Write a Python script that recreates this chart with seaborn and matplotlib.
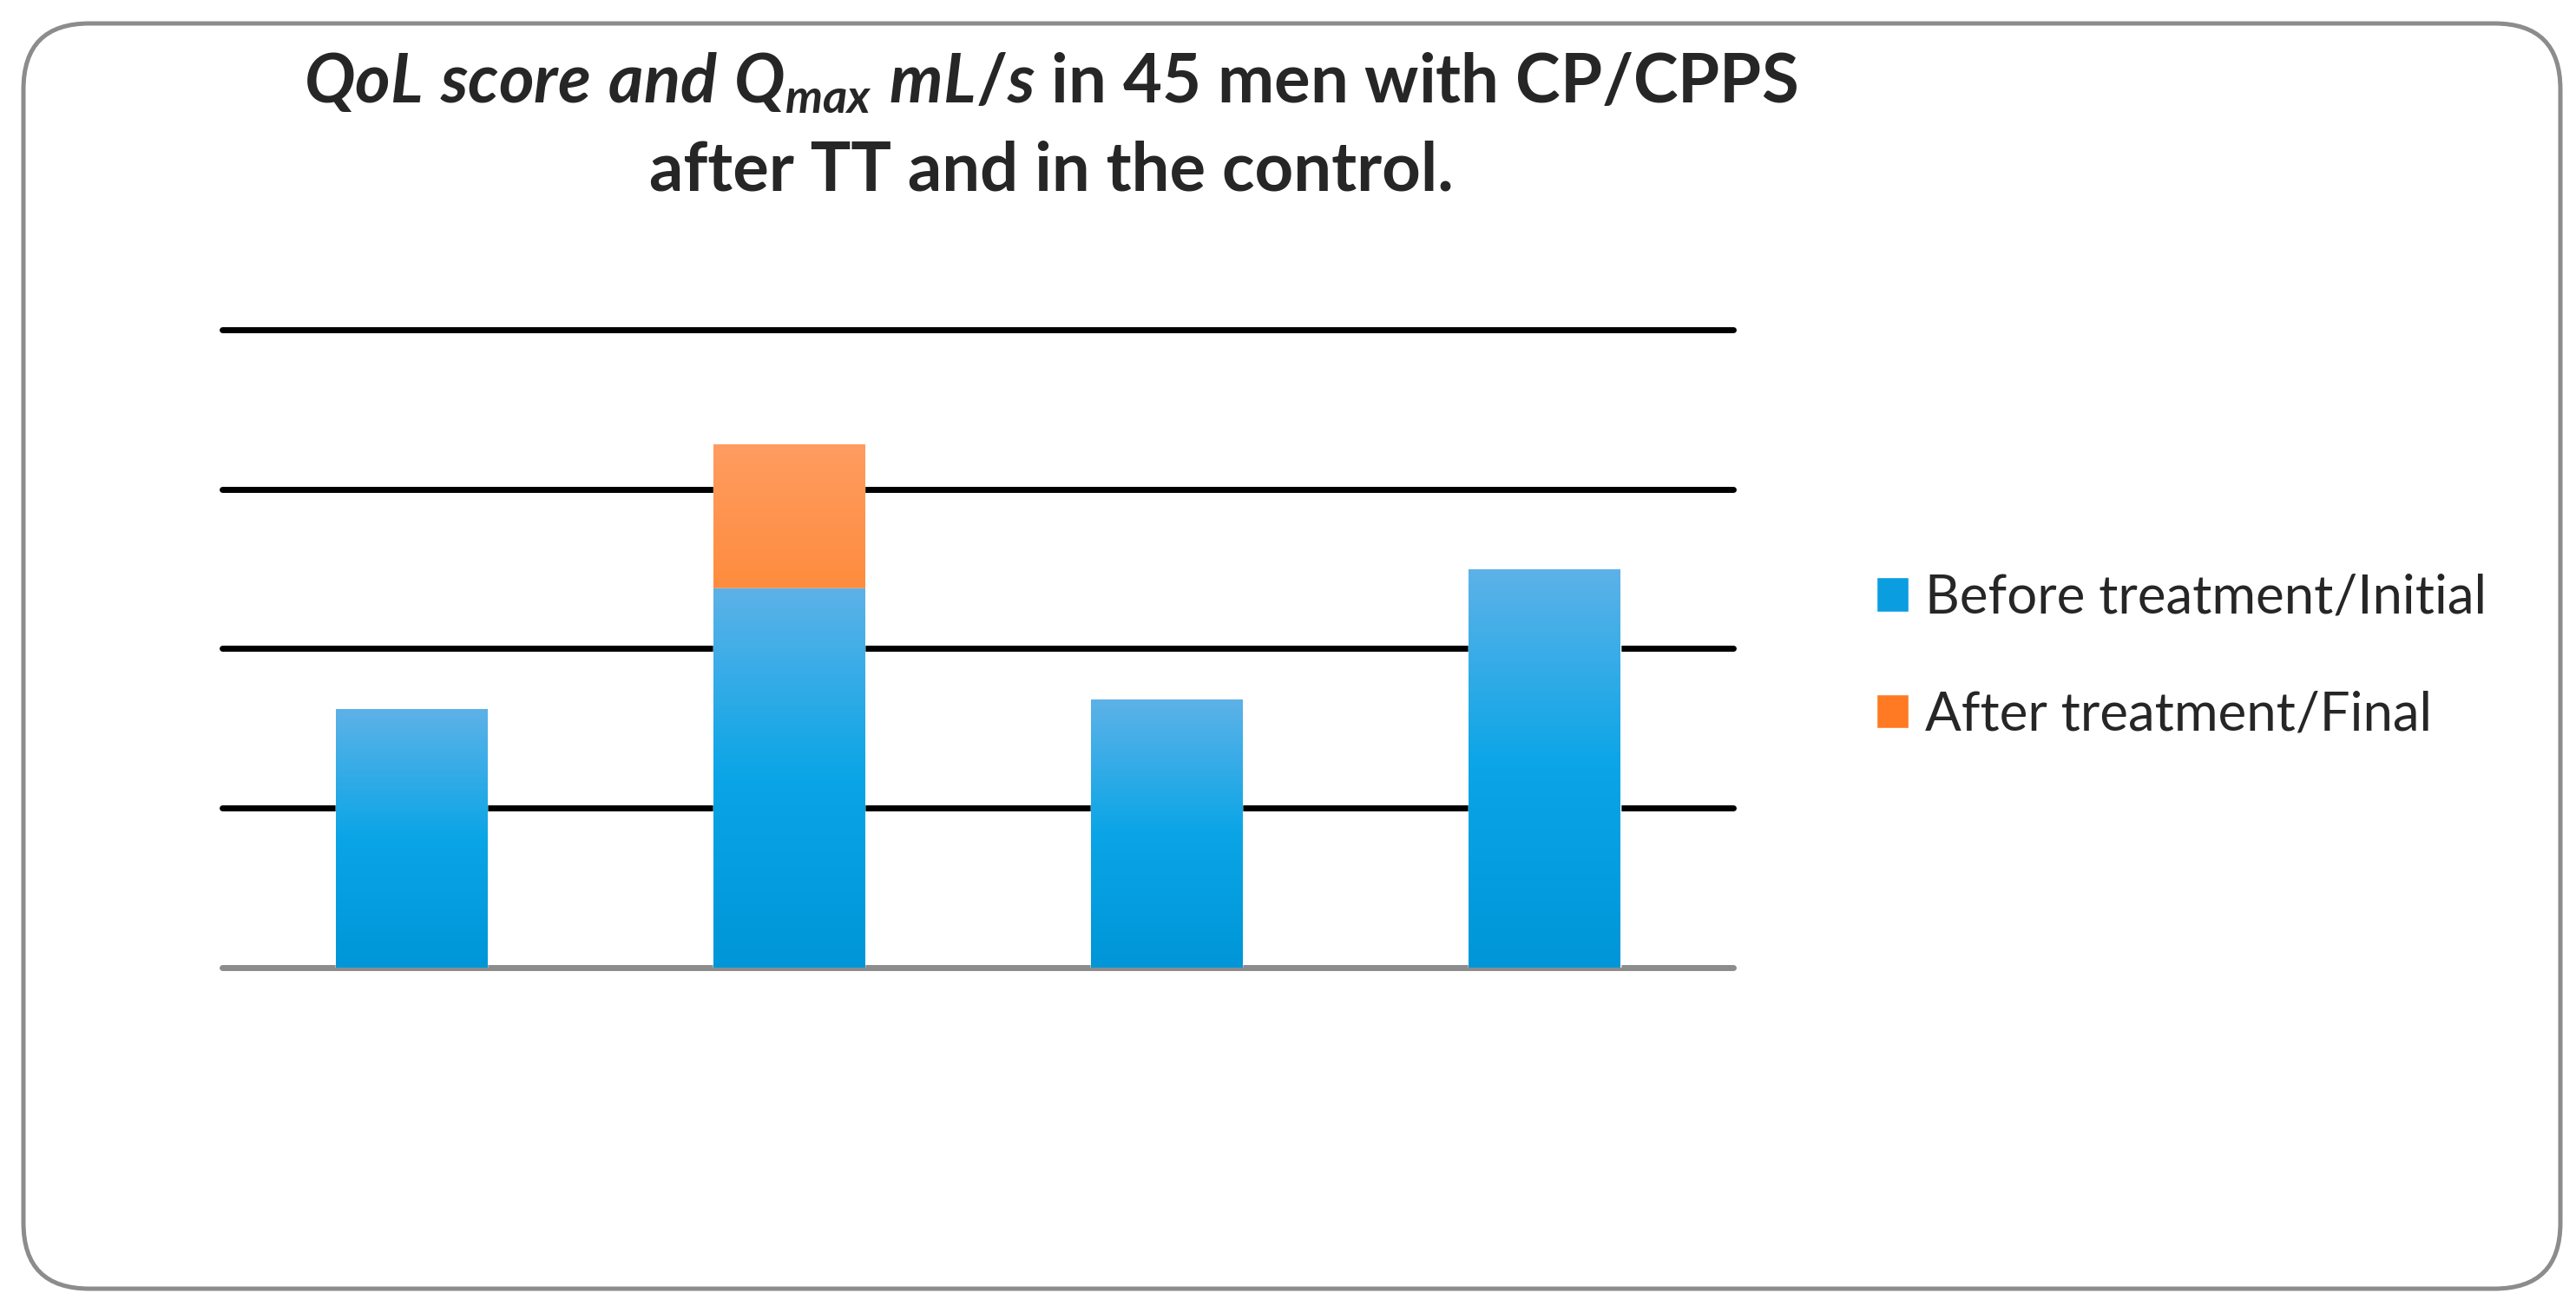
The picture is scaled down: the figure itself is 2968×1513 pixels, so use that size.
import matplotlib.pyplot as plt
import matplotlib.patches as mpatches
import matplotlib.transforms as mtransforms
from matplotlib.colors import LinearSegmentedColormap
import numpy as np
import pandas as pd
import seaborn as sns

# Chart data (no axis labels shown in the original, scale read against gridlines)
groups = ['Group 1', 'Group 2', 'Group 3', 'Group 4']
before = [8.1, 11.9, 8.4, 12.5]
after_gain = [0.0, 4.5, 0.0, 0.0]
grid_levels = [0, 5, 10, 15, 20]
series_names = ['Before treatment/Initial', 'After treatment/Final']

total = [b + a for b, a in zip(before, after_gain)]
df = pd.DataFrame({'group': groups, 'before': before, 'total': total})

sns.set_style("white")
plt.rcParams['font.family'] = ['Lato', 'DejaVu Sans']
plt.rcParams['mathtext.fontset'] = 'custom'
plt.rcParams['mathtext.it'] = 'Lato:italic:bold'
plt.rcParams['mathtext.rm'] = 'Lato:bold'
plt.rcParams['mathtext.bf'] = 'Lato:bold'

fig = plt.figure(figsize=(29.68, 15.13), dpi=100)
ax = fig.add_axes([0.0863, 0.2631, 0.5866, 0.4858])

# Gridlines: black ones above zero, grey baseline
for level in grid_levels:
    ax.axhline(level, color='#8c8c8c' if level == 0 else 'black',
               linewidth=5, solid_capstyle='round', clip_on=False, zorder=1)

# Totals first (orange shows only above the blue part), then the initial values
sns.barplot(data=df, x='group', y='total', color='#ff8c3e', width=0.4,
            saturation=1, ax=ax, zorder=2)
n_orange = len(ax.patches)
sns.barplot(data=df, x='group', y='before', color='#0a9ee0', width=0.4,
            saturation=1, ax=ax, zorder=3)

blue_cmap = LinearSegmentedColormap.from_list('blue', ['#0096d8', '#0aa5e6', '#5db2e8'])
orange_cmap = LinearSegmentedColormap.from_list('orange', ['#ff8c3e', '#fe9c60'])
grad = np.linspace(0, 1, 256).reshape(-1, 1)

for i, bar in enumerate(ax.patches):
    h = bar.get_height()
    if h <= 0:
        continue
    x0, y0 = bar.get_xy()
    w = bar.get_width()
    if i < n_orange:
        k = i
        if after_gain[k] <= 0:
            continue
        extent = [x0, x0 + w, before[k], y0 + h]
        cmap = orange_cmap
    else:
        extent = [x0, x0 + w, y0, y0 + h]
        cmap = blue_cmap
    im = ax.imshow(grad, extent=extent, origin='lower', cmap=cmap,
                   aspect='auto', zorder=bar.get_zorder() + 0.1)
    im.set_clip_path(bar)

ax.set_xlim(-0.5, len(groups) - 0.5)
ax.set_ylim(0, 20)
ax.set_axis_off()

# Title
fig.text(0.408, 1 - 95 / 1513,
         r'$QoL\ score\ and\ Q_{max}\ mL/s$ in 45 men with CP/CPPS',
         ha='center', va='center', fontsize=56, fontweight='bold')
fig.text(0.408, 1 - 197 / 1513, 'after TT and in the control.',
         ha='center', va='center', fontsize=56, fontweight='bold')

# Legend
handles = [mpatches.Patch(facecolor='#0a9ee0', label=series_names[0]),
           mpatches.Patch(facecolor='#ff7a22', label=series_names[1])]
fig.legend(handles=handles, loc='center left', bbox_to_anchor=(0.7285, 0.5),
           frameon=False, fontsize=44.5, handlelength=0.6, handleheight=0.6,
           handletextpad=0.3, labelspacing=1.25, borderaxespad=0, borderpad=0)

# Rounded frame around the whole chart
frame = mpatches.FancyBboxPatch((27, 28), 2923, 1458,
                                boxstyle='round,pad=0,rounding_size=76',
                                transform=mtransforms.IdentityTransform(),
                                fill=False, edgecolor='#8c8c8c', linewidth=3.6)
fig.patches.append(frame)

fig.savefig('out.png', dpi=100, facecolor='white')
